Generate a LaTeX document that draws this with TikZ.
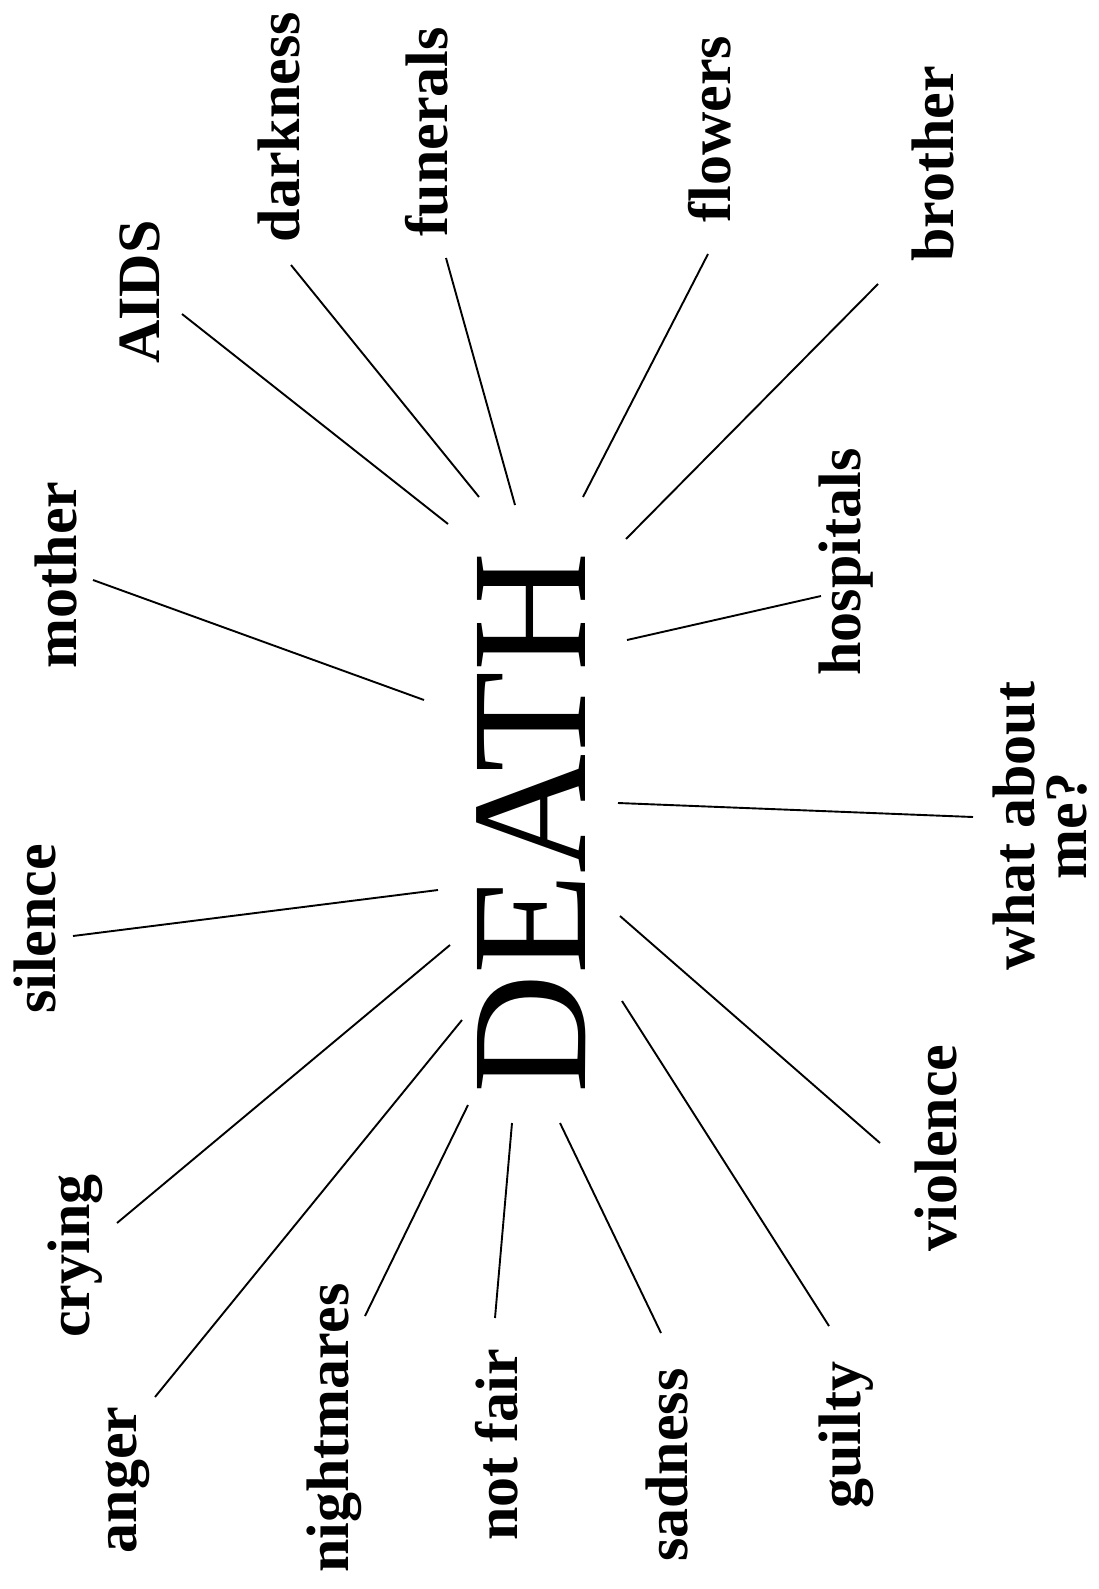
\documentclass[tikz,border=0pt]{standalone}
\usepackage{fontspec}
\setmainfont{Liberation Serif}
\usetikzlibrary{positioning}
\tikzset{
    hub/.style={rotate=90,inner sep=0pt,font=\fontsize{165}{165}\selectfont},
    word/.style={rotate=90,inner sep=0pt,align=center,font=\bfseries\fontsize{60}{52}\selectfont},
    spoke/.style={line width=1.9pt}
}
\begin{document}
\begin{tikzpicture}[x=1pt,y=-1pt]
    \useasboundingbox (0,0) rectangle (1098,1589);
    \node[hub] (death) at (531,823) {DEATH};
    \node[word] (aids) at (140,292) {AIDS};
    \node[word] (dark) at (279,127) {darkness};
    \node[word] (fun) at (427,132) {funerals};
    \node[word] (flow) at (710,129) {flowers};
    \node[word] (bro) at (933,164) {brother};
    \node[word] (mom) at (56,575) {mother};
    \node[word] (hosp) at (846,562) {hospitals};
    \node[word] (me) at (1040,826) {what about\\me?};
    \node[word] (sil) at (35,929) {silence};
    \node[word] (cry) at (75,1256) {crying};
    \node[word] (ang) at (128,1480) {anger};
    \node[word] (night) at (334,1428) {nightmares};
    \node[word] (fair) at (497,1445) {not fair};
    \node[word] (sad) at (667,1465) {sadness};
    \node[word] (guilt) at (846,1435) {guilty};
    \node[word] (viol) at (936,1148) {violence};
    \coordinate (aids-a) at (448,524);   \coordinate (aids-b) at (182,314);
    \coordinate (dark-a) at (479,497);   \coordinate (dark-b) at (291,265);
    \coordinate (fun-a) at (515,505);    \coordinate (fun-b) at (446,258);
    \coordinate (flow-a) at (583,497);   \coordinate (flow-b) at (708,254);
    \coordinate (bro-a) at (626,539);    \coordinate (bro-b) at (878,284);
    \coordinate (mom-a) at (424,700);    \coordinate (mom-b) at (93,580);
    \coordinate (hosp-a) at (627,640);   \coordinate (hosp-b) at (821,596);
    \coordinate (me-a) at (618,803);     \coordinate (me-b) at (973,817);
    \coordinate (sil-a) at (438,890);    \coordinate (sil-b) at (73,936);
    \coordinate (cry-a) at (450,945);    \coordinate (cry-b) at (117,1223);
    \coordinate (ang-a) at (462,1020);   \coordinate (ang-b) at (155,1397);
    \coordinate (night-a) at (468,1105); \coordinate (night-b) at (365,1316);
    \coordinate (fair-a) at (512,1123);  \coordinate (fair-b) at (495,1318);
    \coordinate (sad-a) at (560,1123);   \coordinate (sad-b) at (661,1333);
    \coordinate (guilt-a) at (622,1001); \coordinate (guilt-b) at (829,1326);
    \coordinate (viol-a) at (620,916);   \coordinate (viol-b) at (880,1143);
    \foreach \w in {aids,dark,fun,flow,bro,mom,hosp,me,sil,cry,ang,night,fair,sad,guilt,viol}
        \draw[spoke] (\w-a) -- (\w-b);
\end{tikzpicture}
\end{document}
